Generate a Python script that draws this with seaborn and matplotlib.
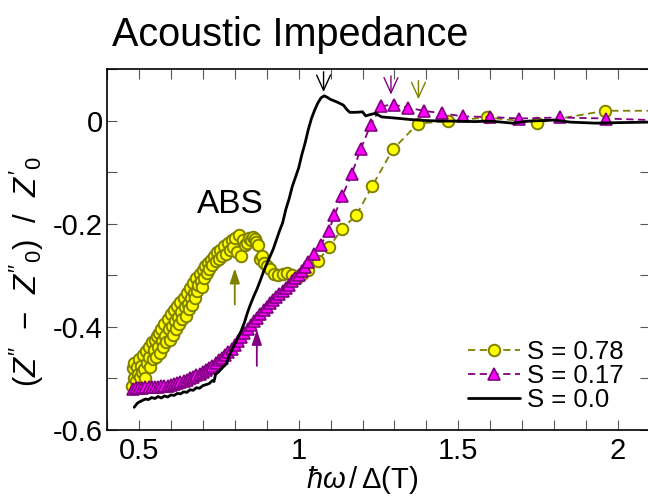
import matplotlib
matplotlib.use("Agg")
import matplotlib.pyplot as plt
import seaborn as sns
import pandas as pd

# ---------------- data ----------------
# S = 0.0 (black solid line)
x_s00 = [0.485, 0.49, 0.495, 0.50, 0.51, 0.52, 0.53, 0.54, 0.55, 0.56, 0.57, 0.58, 0.59, 0.60,
         0.61, 0.62, 0.63, 0.64, 0.65, 0.66, 0.67, 0.68, 0.69, 0.70, 0.71, 0.72, 0.73, 0.735,
         0.74, 0.75, 0.76, 0.77, 0.775, 0.78, 0.79, 0.80, 0.81, 0.82, 0.83, 0.84, 0.85, 0.86,
         0.87, 0.88, 0.89, 0.90, 0.91, 0.92, 0.93, 0.94, 0.95, 0.96, 0.97, 0.98, 0.99, 1.00,
         1.01, 1.02, 1.03, 1.04, 1.05, 1.06, 1.07, 1.08, 1.09, 1.10, 1.12, 1.14, 1.15, 1.16,
         1.18, 1.20, 1.21, 1.22, 1.24, 1.26, 1.30, 1.35, 1.40, 1.45, 1.50, 1.55, 1.60, 1.67,
         1.72, 1.80, 1.85, 1.93, 2.00, 2.10]
y_s00 = [-0.556, -0.552, -0.548, -0.546, -0.543, -0.540, -0.541, -0.537, -0.539, -0.535, -0.538,
         -0.534, -0.536, -0.532, -0.533, -0.529, -0.530, -0.526, -0.527, -0.522, -0.523, -0.518,
         -0.519, -0.514, -0.512, -0.510, -0.504, -0.506, -0.492, -0.487, -0.480, -0.474, -0.470,
         -0.460, -0.446, -0.434, -0.421, -0.408, -0.392, -0.372, -0.355, -0.340, -0.326, -0.310,
         -0.293, -0.278, -0.264, -0.250, -0.232, -0.214, -0.198, -0.172, -0.152, -0.128, -0.110,
         -0.092, -0.066, -0.044, -0.018, 0.004, 0.020, 0.034, 0.044, 0.048, 0.045, 0.041, 0.036,
         0.030, 0.022, 0.016, 0.016, 0.017, 0.009, 0.011, 0.014, 0.007, 0.005, 0.002, 0.000,
         -0.001, -0.001, -0.002, -0.001, -0.005, -0.001, 0.001, -0.003, -0.005, -0.004, -0.003]

# S = 0.17 (magenta triangles, purple dashed)
x_s17 = [0.48, 0.49, 0.50, 0.51, 0.52, 0.53, 0.54, 0.55, 0.56, 0.57, 0.58, 0.59, 0.60, 0.61,
         0.62, 0.63, 0.64, 0.65, 0.66, 0.67, 0.68, 0.69, 0.70, 0.71, 0.72, 0.73, 0.74, 0.75,
         0.76, 0.77, 0.78, 0.79, 0.80, 0.81, 0.82, 0.83, 0.84, 0.85, 0.86, 0.87, 0.88, 0.89,
         0.90, 0.91, 0.92, 0.93, 0.94, 0.95, 0.96, 0.97, 0.98, 0.99, 1.00, 1.01, 1.02, 1.03,
         1.049, 1.069, 1.094, 1.112, 1.136, 1.166, 1.194, 1.225, 1.259, 1.297, 1.341, 1.392,
         1.449, 1.516, 1.599, 1.691, 1.817, 1.962, 2.15]
y_s17 = [-0.521, -0.519, -0.518, -0.518, -0.517, -0.517, -0.517, -0.516, -0.516, -0.515, -0.515,
         -0.514, -0.513, -0.511, -0.509, -0.507, -0.505, -0.503, -0.500, -0.497, -0.494, -0.491,
         -0.487, -0.483, -0.479, -0.475, -0.470, -0.465, -0.460, -0.455, -0.449, -0.443, -0.436,
         -0.428, -0.420, -0.412, -0.404, -0.397, -0.389, -0.382, -0.375, -0.368, -0.361, -0.354,
         -0.348, -0.342, -0.336, -0.330, -0.324, -0.318, -0.312, -0.306, -0.299, -0.291, -0.283,
         -0.275, -0.258, -0.241, -0.214, -0.184, -0.147, -0.104, -0.056, -0.009, 0.028, 0.031,
         0.025, 0.019, 0.014, 0.008, 0.007, 0.004, 0.006, 0.004, 0.000]

# S = 0.78 (yellow circles, olive dashed)
x_s78 = [0.478, 0.480, 0.483, 0.486, 0.490, 0.493, 0.496, 0.500, 0.503, 0.506, 0.510, 0.513,
         0.516, 0.520, 0.523, 0.526, 0.530, 0.533, 0.536, 0.540, 0.543, 0.546, 0.550, 0.553,
         0.556, 0.560, 0.563, 0.566, 0.570, 0.573, 0.576, 0.580, 0.583, 0.586, 0.590, 0.593,
         0.596, 0.600, 0.603, 0.606, 0.610, 0.613, 0.616, 0.620, 0.623, 0.626, 0.630, 0.633,
         0.636, 0.640, 0.643, 0.646, 0.650, 0.653, 0.656, 0.660, 0.663, 0.666, 0.670, 0.673,
         0.676, 0.680, 0.683, 0.686, 0.690, 0.693, 0.696, 0.700, 0.704, 0.708, 0.712, 0.716,
         0.720, 0.725, 0.730, 0.735, 0.740, 0.745, 0.750, 0.755, 0.760, 0.766, 0.772, 0.778,
         0.784, 0.790, 0.796, 0.802, 0.808, 0.814, 0.820, 0.826, 0.832, 0.838, 0.844, 0.850,
         0.856, 0.862, 0.868, 0.874, 0.880, 0.886, 0.892, 0.900, 0.910, 0.922, 0.935, 0.950,
         0.965, 0.980, 0.995, 1.010, 1.030, 1.060, 1.096, 1.136, 1.181, 1.231, 1.295, 1.373,
         1.468, 1.590, 1.747, 1.959, 2.200]
y_s78 = [-0.515, -0.480, -0.500, -0.470, -0.505, -0.478, -0.492, -0.462, -0.498, -0.475, -0.488,
         -0.455, -0.482, -0.500, -0.447, -0.470, -0.458, -0.440, -0.478, -0.430, -0.462, -0.445,
         -0.425, -0.458, -0.418, -0.440, -0.412, -0.450, -0.405, -0.428, -0.440, -0.395, -0.418,
         -0.430, -0.385, -0.405, -0.425, -0.375, -0.398, -0.415, -0.368, -0.388, -0.405, -0.360,
         -0.380, -0.395, -0.352, -0.372, -0.385, -0.345, -0.362, -0.378, -0.335, -0.355, -0.365,
         -0.325, -0.345, -0.358, -0.315, -0.335, -0.345, -0.305, -0.330, -0.318, -0.298, -0.312,
         -0.322, -0.290, -0.305, -0.282, -0.296, -0.276, -0.288, -0.270, -0.280, -0.262, -0.272,
         -0.255, -0.268, -0.250, -0.262, -0.244, -0.258, -0.238, -0.250, -0.232, -0.246, -0.228,
         -0.255, -0.222, -0.262, -0.232, -0.242, -0.238, -0.228, -0.232, -0.226, -0.230, -0.236,
         -0.242, -0.268, -0.262, -0.276, -0.282, -0.288, -0.297, -0.300, -0.298, -0.296, -0.300,
         -0.305, -0.298, -0.290, -0.272, -0.245, -0.210, -0.183, -0.126, -0.056, -0.006, -0.001,
         0.006, -0.004, 0.019, 0.019]

labels = ["S = 0.78", "S = 0.17", "S = 0.0"]
x_ticks = [0.5, 1.0, 1.5, 2.0]
x_ticklabels = ["0.5", "1", "1.5", "2"]
y_ticks = [-0.6, -0.4, -0.2, 0.0]
y_ticklabels = ["-0.6", "-0.4", "-0.2", "0"]

# ---------------- style ----------------
sns.set_theme(style="ticks")
plt.rcParams["font.family"] = ["Liberation Sans", "DejaVu Sans"]
plt.rcParams["mathtext.fontset"] = "custom"
plt.rcParams["mathtext.rm"] = "Liberation Sans"
plt.rcParams["mathtext.it"] = "Liberation Sans:italic"
plt.rcParams["mathtext.bf"] = "Liberation Sans:bold"
plt.rcParams["mathtext.fallback"] = "cm"
for k in ["text.color", "axes.labelcolor", "xtick.labelcolor", "ytick.labelcolor"]:
    plt.rcParams[k] = "black"

OLIVE = "#808000"
YELLOW = "#ffff00"
PURPLE = "#800080"
MAGENTA = "#ff00ff"

fig = plt.figure(figsize=(6.48, 5.03), dpi=100)
ax = fig.add_axes([107 / 648, 1 - 430 / 503, (650 - 107) / 648, (430 - 69) / 503])

d78 = pd.DataFrame({"x": x_s78, "y": y_s78})
d17 = pd.DataFrame({"x": x_s17, "y": y_s17})
d00 = pd.DataFrame({"x": x_s00, "y": y_s00})

sns.lineplot(data=d78, x="x", y="y", ax=ax, sort=False, estimator=None,
             color=OLIVE, linestyle=(0, (4, 2.5)), linewidth=1.3,
             marker="o", markersize=8.3, markerfacecolor=YELLOW,
             markeredgecolor=OLIVE, markeredgewidth=1.4, label=labels[0], zorder=3)
sns.lineplot(data=d17, x="x", y="y", ax=ax, sort=False, estimator=None,
             color=PURPLE, linestyle=(0, (4, 2.5)), linewidth=1.3,
             marker="^", markersize=9, markerfacecolor=MAGENTA,
             markeredgecolor=PURPLE, markeredgewidth=1.2, label=labels[1], zorder=4)
sns.lineplot(data=d00, x="x", y="y", ax=ax, sort=False, estimator=None,
             color="black", linewidth=2.0, label=labels[2], zorder=5)

ax.set_xlim(0.4, 2.1)
ax.set_ylim(-0.6, 0.1)
ax.set_xticks(x_ticks)
ax.set_xticklabels(x_ticklabels)
ax.set_yticks(y_ticks)
ax.set_yticklabels(y_ticklabels)
ax.xaxis.set_minor_locator(matplotlib.ticker.MultipleLocator(0.1))
ax.yaxis.set_minor_locator(matplotlib.ticker.MultipleLocator(0.1))
ax.tick_params(which="both", direction="in", top=True, right=True,
               length=7, width=0.8, color="#555555")
ax.tick_params(axis="x", which="major", labelsize=21, pad=5)
ax.tick_params(axis="y", which="major", labelsize=21, pad=3)
for sp in ax.spines.values():
    sp.set_linewidth(1.2)
    sp.set_color("black")

ax.set_xlabel(r"$\hbar\omega\,/\,\mathit{Δ}(\mathrm{T})$", fontsize=21, labelpad=0)
ax.xaxis.set_label_coords(0.47, -0.095, transform=ax.transAxes)
ax.xaxis.label.set_va("top")
ax.set_ylabel(r"$(Z''\ \ \mathrm{-}\ \ Z''_0)\ \ /\ \ Z'_0$", fontsize=22.5)
ax.yaxis.set_label_coords(-0.113, 0.44, transform=ax.transAxes)

fig.text(112 / 648, 1 - 46 / 503, "Acoustic Impedance", fontsize=28.5,
         ha="left", va="baseline", color="black")

ax.text(0.681, -0.18, "ABS", fontsize=24, ha="left", va="baseline")

# arrows at the top
top_style = "->,head_length=0.55,head_width=0.25"
ax.annotate("", xy=(1.078, 0.050), xytext=(1.078, 0.10),
            arrowprops=dict(arrowstyle=top_style, color="black", lw=1.0, mutation_scale=20))
ax.annotate("", xy=(1.289, 0.045), xytext=(1.289, 0.092),
            arrowprops=dict(arrowstyle=top_style, color=PURPLE, lw=1.0, mutation_scale=20))
ax.annotate("", xy=(1.375, 0.036), xytext=(1.375, 0.083),
            arrowprops=dict(arrowstyle=top_style, color=OLIVE, lw=1.0, mutation_scale=20))
# arrows at bottom
bot_style = "-|>,head_length=0.45,head_width=0.15"
ax.annotate("", xy=(0.80, -0.281), xytext=(0.80, -0.362),
            arrowprops=dict(arrowstyle=bot_style, color=OLIVE, lw=1.3, mutation_scale=20))
ax.annotate("", xy=(0.869, -0.40), xytext=(0.869, -0.481),
            arrowprops=dict(arrowstyle=bot_style, color=PURPLE, lw=1.3, mutation_scale=20))

leg = ax.legend(loc="lower right", frameon=False, fontsize=18.5, handlelength=2.0,
                handletextpad=0.3, labelspacing=0.0, borderaxespad=0.3,
                bbox_to_anchor=(0.985, 0.0))

fig.savefig("out.png", dpi=100)
